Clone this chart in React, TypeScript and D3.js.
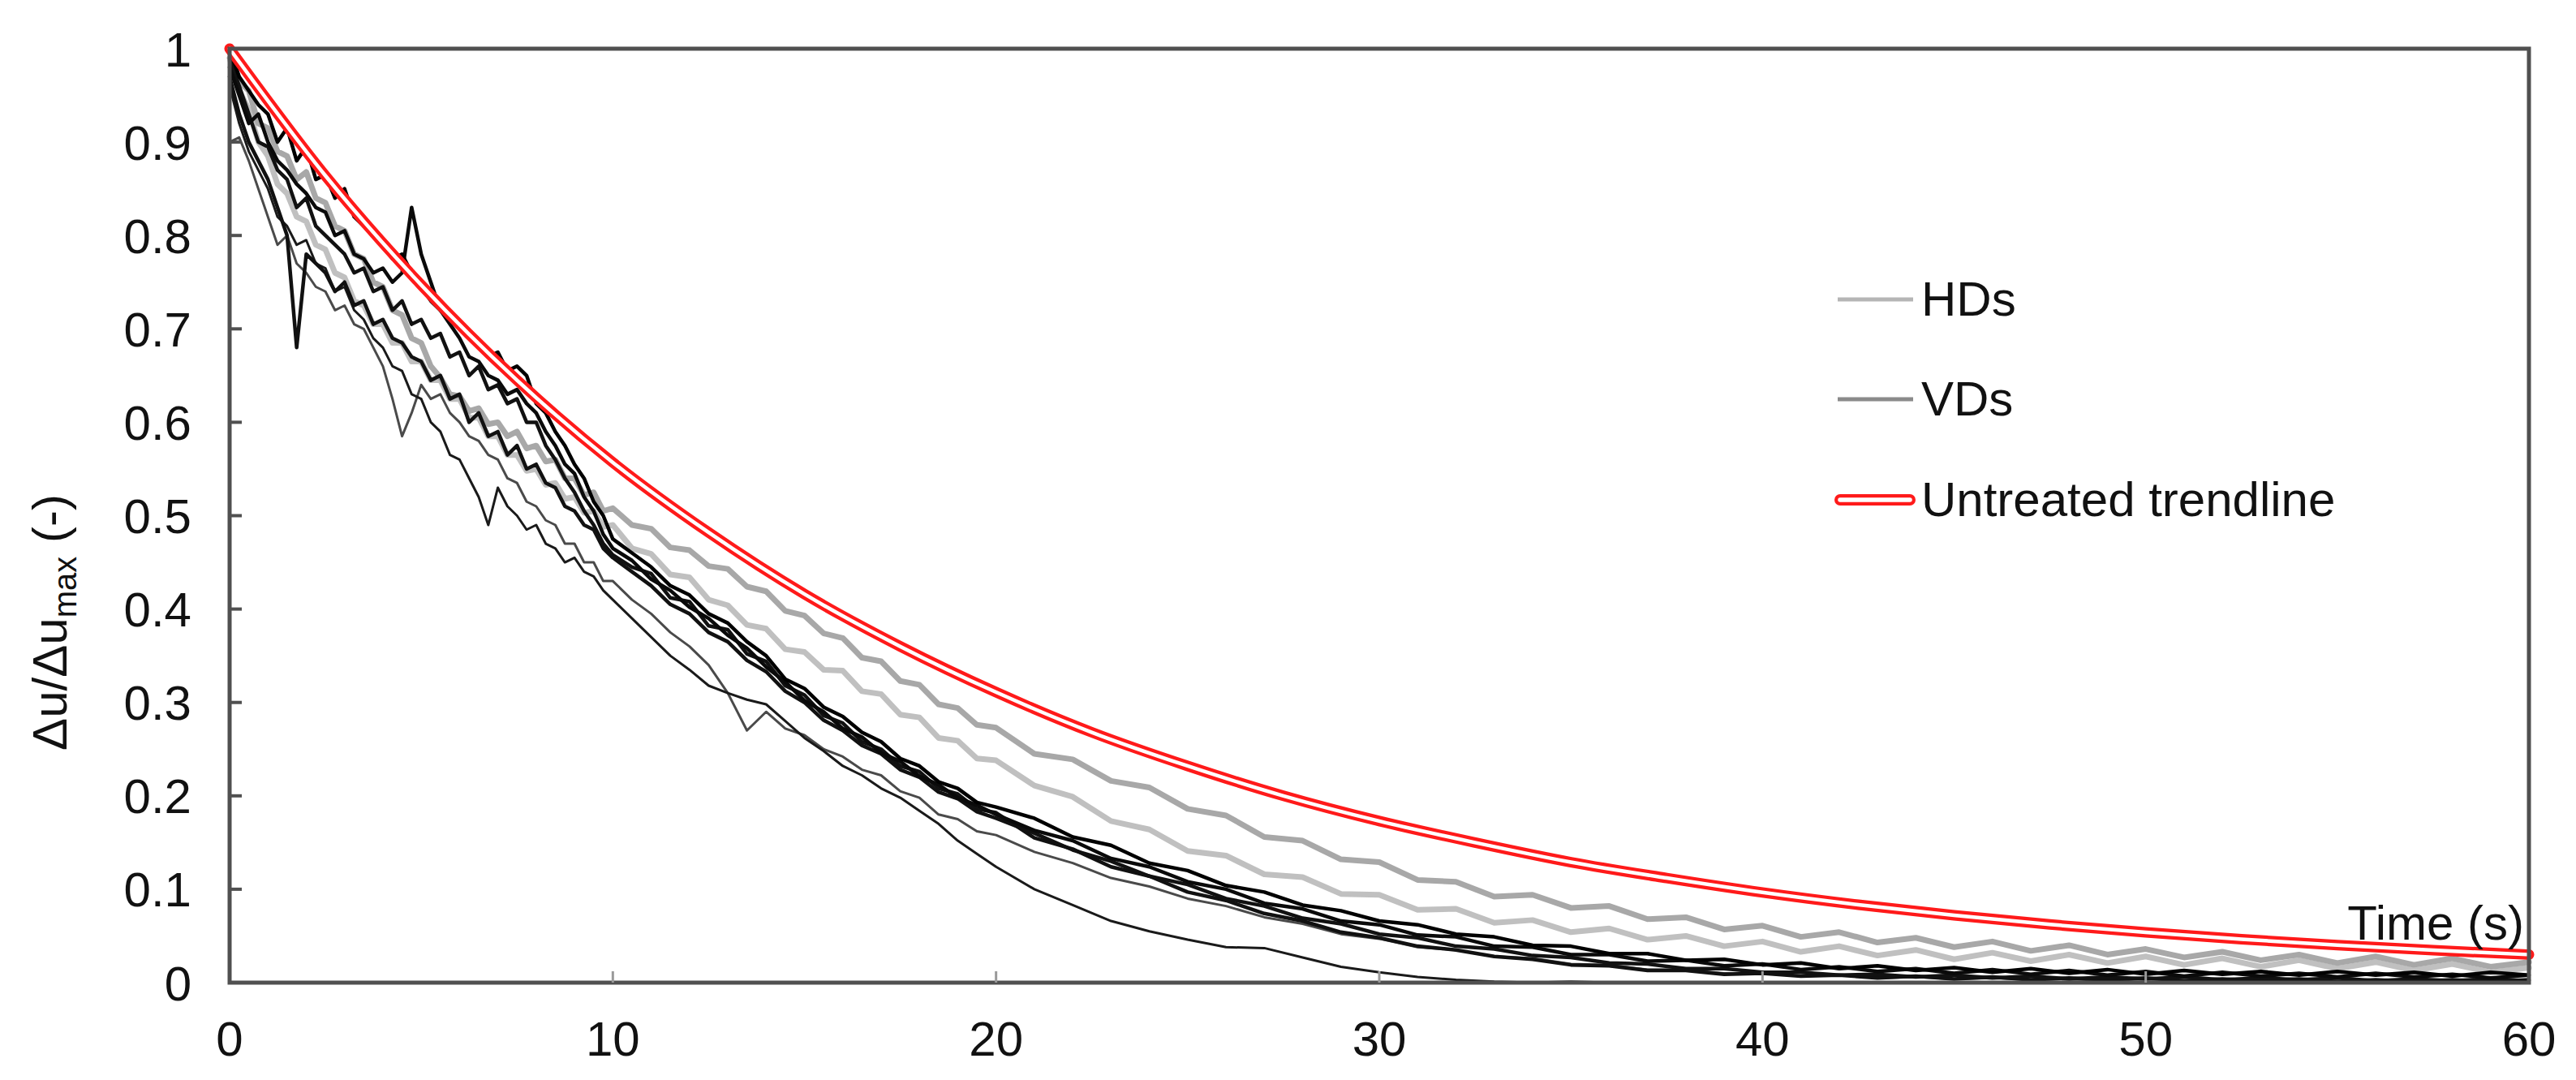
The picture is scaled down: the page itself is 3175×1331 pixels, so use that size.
import React from "react";
import * as d3 from "d3";

// ---------- data ----------
const TIME = [
  0, 0.25, 0.5, 0.75, 1, 1.25, 1.5, 1.75, 2, 2.25, 2.5, 2.75, 3, 3.25, 3.5, 3.75, 4, 4.25, 4.5, 4.75,
  5, 5.25, 5.5, 5.75, 6, 6.25, 6.5, 6.75, 7, 7.25, 7.5, 7.75, 8, 8.25, 8.5, 8.75, 9, 9.25, 9.5, 9.75, 10,
  10.5, 11, 11.5, 12, 12.5, 13, 13.5, 14, 14.5, 15, 15.5, 16, 16.5, 17, 17.5, 18, 18.5, 19, 19.5, 20,
  21, 22, 23, 24, 25, 26, 27, 28, 29, 30, 31, 32, 33, 34, 35, 36, 37, 38, 39, 40,
  41, 42, 43, 44, 45, 46, 47, 48, 49, 50, 51, 52, 53, 54, 55, 56, 57, 58, 59, 60,
];

const HD1 = [
  1.0, 0.965, 0.955, 0.92, 0.915, 0.89, 0.885, 0.86, 0.868, 0.84,
  0.835, 0.81, 0.805, 0.78, 0.775, 0.75, 0.745, 0.72, 0.715, 0.69,
  0.685, 0.66, 0.648, 0.63, 0.628, 0.612, 0.615, 0.598, 0.6, 0.585,
  0.59, 0.572, 0.575, 0.558, 0.56, 0.54, 0.54, 0.522, 0.525, 0.505,
  0.508,
  0.49, 0.486, 0.466, 0.463, 0.446, 0.443, 0.424, 0.419, 0.398, 0.393,
  0.374, 0.369, 0.348, 0.344, 0.323, 0.319, 0.298, 0.294, 0.276, 0.273,
  0.245, 0.239, 0.216, 0.209, 0.186, 0.179, 0.156, 0.152, 0.132, 0.129,
  0.11, 0.108, 0.092, 0.094, 0.08, 0.082, 0.068, 0.07, 0.057, 0.061,
  0.049, 0.054, 0.043, 0.048, 0.038, 0.044, 0.034, 0.04, 0.03, 0.036,
  0.027, 0.033, 0.024, 0.03, 0.021, 0.028, 0.019, 0.026, 0.017, 0.022,
];

const HD2 = [
  0.99, 0.955, 0.935, 0.9, 0.885, 0.855, 0.845, 0.82, 0.815, 0.79,
  0.785, 0.76, 0.755, 0.73, 0.725, 0.705, 0.705, 0.685, 0.685, 0.665,
  0.665, 0.645, 0.645, 0.625, 0.625, 0.605, 0.605, 0.585, 0.585, 0.565,
  0.565, 0.548, 0.55, 0.533, 0.535, 0.518, 0.52, 0.503, 0.505, 0.488,
  0.49,
  0.465, 0.459, 0.437, 0.434, 0.41, 0.404, 0.383, 0.379, 0.357, 0.354,
  0.335, 0.334, 0.312, 0.309, 0.287, 0.284, 0.262, 0.259, 0.24, 0.238,
  0.211, 0.199, 0.173, 0.164, 0.141, 0.136, 0.116, 0.113, 0.095, 0.094,
  0.078, 0.079, 0.064, 0.067, 0.054, 0.058, 0.046, 0.05, 0.039, 0.044,
  0.033, 0.039, 0.029, 0.035, 0.025, 0.032, 0.023, 0.03, 0.021, 0.028,
  0.019, 0.026, 0.017, 0.024, 0.015, 0.022, 0.013, 0.02, 0.011, 0.016,
];

const VD1 = [
  1.0, 0.97, 0.955, 0.94, 0.93, 0.9, 0.915, 0.88, 0.895, 0.86,
  0.865, 0.84, 0.85, 0.82, 0.81, 0.8, 0.79, 0.775, 0.78, 0.76,
  0.745, 0.73, 0.72, 0.71, 0.7, 0.69, 0.685, 0.67, 0.675, 0.655,
  0.66, 0.65, 0.62, 0.61, 0.59, 0.575, 0.555, 0.54, 0.515, 0.5,
  0.475,
  0.46, 0.445, 0.425, 0.415, 0.395, 0.385, 0.365, 0.35, 0.325, 0.315,
  0.295, 0.285, 0.268, 0.258, 0.24, 0.232, 0.215, 0.208, 0.193, 0.188,
  0.176, 0.156, 0.147, 0.128, 0.12, 0.104, 0.097, 0.083, 0.077, 0.066,
  0.062, 0.052, 0.049, 0.04, 0.039, 0.031, 0.031, 0.024, 0.025, 0.019,
  0.021, 0.015, 0.018, 0.013, 0.016, 0.011, 0.015, 0.01, 0.014, 0.009,
  0.013, 0.009, 0.012, 0.008, 0.012, 0.008, 0.011, 0.007, 0.011, 0.008,
];

const VD2 = [
  0.98, 0.95, 0.92, 0.93, 0.9, 0.88, 0.87, 0.855, 0.845, 0.83,
  0.825, 0.8, 0.805, 0.78, 0.775, 0.76, 0.765, 0.75, 0.76, 0.83,
  0.78, 0.75, 0.72, 0.705, 0.69, 0.67, 0.665, 0.65, 0.645, 0.63,
  0.635, 0.62, 0.61, 0.59, 0.575, 0.555, 0.545, 0.52, 0.505, 0.48,
  0.465,
  0.452, 0.432, 0.42, 0.402, 0.39, 0.372, 0.358, 0.338, 0.322, 0.302,
  0.29, 0.272, 0.263, 0.246, 0.237, 0.221, 0.212, 0.198, 0.19, 0.18,
  0.163, 0.152, 0.133, 0.124, 0.108, 0.1, 0.085, 0.079, 0.066, 0.062,
  0.051, 0.049, 0.039, 0.038, 0.03, 0.03, 0.023, 0.024, 0.018, 0.02,
  0.014, 0.017, 0.012, 0.015, 0.01, 0.014, 0.009, 0.013, 0.008, 0.012,
  0.007, 0.011, 0.007, 0.01, 0.006, 0.01, 0.006, 0.009, 0.005, 0.008,
];

const VD3 = [
  0.97, 0.93, 0.9, 0.88, 0.86, 0.83, 0.8, 0.68, 0.78, 0.77,
  0.76, 0.74, 0.75, 0.725, 0.73, 0.705, 0.71, 0.69, 0.685, 0.67,
  0.665, 0.645, 0.65, 0.625, 0.63, 0.6, 0.61, 0.585, 0.59, 0.565,
  0.575, 0.55, 0.555, 0.535, 0.53, 0.51, 0.505, 0.49, 0.485, 0.465,
  0.455,
  0.44, 0.425, 0.405, 0.395, 0.375, 0.365, 0.345, 0.333, 0.312, 0.3,
  0.281, 0.27, 0.254, 0.245, 0.228, 0.22, 0.204, 0.197, 0.183, 0.176,
  0.16, 0.142, 0.13, 0.114, 0.105, 0.09, 0.082, 0.069, 0.063, 0.052,
  0.048, 0.039, 0.036, 0.029, 0.027, 0.021, 0.02, 0.015, 0.015, 0.011,
  0.011, 0.008, 0.009, 0.006, 0.008, 0.005, 0.007, 0.004, 0.006, 0.004,
  0.006, 0.003, 0.005, 0.003, 0.005, 0.002, 0.004, 0.002, 0.004, 0.002,
];

const VD4 = [
  0.99, 0.96, 0.93, 0.9, 0.895, 0.87, 0.86, 0.83, 0.84, 0.81,
  0.8, 0.79, 0.78, 0.76, 0.765, 0.74, 0.745, 0.72, 0.73, 0.705,
  0.71, 0.69, 0.695, 0.67, 0.675, 0.65, 0.66, 0.635, 0.64, 0.62,
  0.625, 0.6, 0.6, 0.575, 0.56, 0.54, 0.525, 0.505, 0.49, 0.47,
  0.458,
  0.445, 0.438, 0.412, 0.408, 0.382, 0.378, 0.352, 0.344, 0.318, 0.308,
  0.286, 0.278, 0.258, 0.25, 0.232, 0.226, 0.208, 0.202, 0.186, 0.182,
  0.155, 0.143, 0.124, 0.114, 0.097, 0.088, 0.074, 0.066, 0.054, 0.048,
  0.039, 0.035, 0.028, 0.025, 0.019, 0.018, 0.013, 0.013, 0.009, 0.01,
  0.007, 0.008, 0.005, 0.007, 0.004, 0.006, 0.003, 0.005, 0.003, 0.005,
  0.002, 0.004, 0.002, 0.004, 0.001, 0.003, 0.001, 0.003, 0.001, 0.003,
];

const VD5 = [
  0.96, 0.92, 0.89, 0.87, 0.85, 0.82, 0.81, 0.79, 0.795, 0.77,
  0.765, 0.74, 0.745, 0.72, 0.71, 0.69, 0.68, 0.66, 0.655, 0.63,
  0.625, 0.6, 0.59, 0.565, 0.56, 0.54, 0.52, 0.49, 0.53, 0.51,
  0.5, 0.485, 0.49, 0.47, 0.465, 0.45, 0.455, 0.44, 0.435, 0.42,
  0.41,
  0.39, 0.37, 0.35, 0.335, 0.318, 0.31, 0.303, 0.298, 0.28, 0.262,
  0.248, 0.232, 0.222, 0.208, 0.198, 0.184, 0.17, 0.152, 0.138, 0.124,
  0.1, 0.083, 0.066, 0.055, 0.046, 0.038, 0.037, 0.027, 0.017, 0.011,
  0.006, 0.003, 0.001, 0, 0.001, 0, 0, 0, 0, 0,
  0, 0, 0, 0, 0, 0, 0, 0, 0, 0,
  0, 0, 0, 0, 0, 0, 0, 0, 0, 0,
];

const VD6 = [
  0.9, 0.905, 0.88, 0.85, 0.82, 0.79, 0.8, 0.77, 0.76, 0.745,
  0.74, 0.72, 0.725, 0.705, 0.7, 0.68, 0.66, 0.625, 0.585, 0.61,
  0.64, 0.625, 0.63, 0.61, 0.6, 0.585, 0.58, 0.565, 0.56, 0.54,
  0.535, 0.515, 0.51, 0.495, 0.49, 0.47, 0.47, 0.45, 0.45, 0.43,
  0.43,
  0.41, 0.395, 0.375, 0.36, 0.34, 0.31, 0.27, 0.29, 0.272, 0.265,
  0.25, 0.242, 0.228, 0.222, 0.205, 0.198, 0.18, 0.175, 0.162, 0.158,
  0.14, 0.128, 0.112, 0.103, 0.09, 0.082, 0.07, 0.063, 0.052, 0.047,
  0.038, 0.035, 0.028, 0.026, 0.02, 0.019, 0.014, 0.014, 0.01, 0.01,
  0.007, 0.008, 0.005, 0.006, 0.004, 0.005, 0.003, 0.004, 0.002, 0.004,
  0.002, 0.003, 0.001, 0.003, 0.001, 0.002, 0.001, 0.002, 0.001, 0.002,
];

const TREND_T = [0, 2.5, 5, 7.5, 10, 12.5, 15, 17.5, 20, 22.5, 25, 27.5, 30, 32.5, 35, 37.5, 40, 42.5, 45, 47.5, 50, 52.5, 55, 57.5, 60];
const TREND_V = [1, 0.864, 0.747, 0.645, 0.557, 0.482, 0.416, 0.36, 0.311, 0.268, 0.232, 0.2, 0.173, 0.15, 0.129, 0.112, 0.0966, 0.0834, 0.0721, 0.0623, 0.0538, 0.0465, 0.0402, 0.0347, 0.03];

const X_TICKS = [0, 10, 20, 30, 40, 50, 60];
const Y_TICKS = [0, 0.1, 0.2, 0.3, 0.4, 0.5, 0.6, 0.7, 0.8, 0.9, 1];
const LEGEND = ["HDs", "VDs", "Untreated trendline"];

// ---------- layout ----------
const W = 3175;
const H = 1331;
const L = 283, R = 3117, T = 60, B = 1211;
const FONT = "'Liberation Sans', Arial, Helvetica, sans-serif";
const AXIS = "#505050";

const x = d3.scaleLinear().domain([0, 60]).range([L, R]);
const y = d3.scaleLinear().domain([0, 1]).range([B, T]);

function pairs(ts: number[], vs: number[]): [number, number][] {
  const n = Math.min(ts.length, vs.length);
  const out: [number, number][] = [];
  for (let i = 0; i < n; i++) out.push([ts[i], vs[i]]);
  return out;
}

const lineGen = d3.line<[number, number]>().x((d) => x(d[0])).y((d) => y(d[1]));
const smoothGen = d3
  .line<[number, number]>()
  .x((d) => x(d[0]))
  .y((d) => y(d[1]))
  .curve(d3.curveMonotoneX);

const SERIES = [
  { data: HD2, color: "#c0c0c0", width: 7 },
  { data: HD1, color: "#a8a8a8", width: 7 },
  { data: VD6, color: "#4a4a4a", width: 3 },
  { data: VD5, color: "#1a1a1a", width: 3 },
  { data: VD4, color: "#111111", width: 4.5 },
  { data: VD3, color: "#111111", width: 4.5 },
  { data: VD2, color: "#0a0a0a", width: 4.5 },
  { data: VD1, color: "#000000", width: 4.5 },
];

export default function App() {
  const trend = smoothGen(pairs(TREND_T, TREND_V)) || "";
  const fmt = (v: number) => (v === 0 || v === 1 ? String(v) : v.toFixed(1));
  const legendY = [369, 492, 616];
  return (
    <svg
      width={W}
      height={H}
      style={{ position: "absolute", left: 0, top: 0, background: "#fff" }}
      fontFamily={FONT}
    >
      <rect x={0} y={0} width={W} height={H} fill="#ffffff" />

      {/* data lines */}
      <g fill="none" strokeLinejoin="round" strokeLinecap="round">
        {SERIES.map((s, i) => (
          <path key={i} d={lineGen(pairs(TIME, s.data)) || ""} stroke={s.color} strokeWidth={s.width} />
        ))}
        <path d={trend} stroke="#ff1a1a" strokeWidth={13} />
        <path d={trend} stroke="#ffffff" strokeWidth={4.5} />
      </g>

      {/* frame */}
      <rect x={L} y={T} width={R - L} height={B - T} fill="none" stroke={AXIS} strokeWidth={5} />

      {/* y ticks */}
      {Y_TICKS.map((v) => (
        <g key={"y" + v}>
          <line x1={L} x2={L + 15} y1={y(v)} y2={y(v)} stroke={AXIS} strokeWidth={4} />
          <text x={236} y={y(v) + 21.5} fontSize={60} textAnchor="end" fill="#111">
            {fmt(v)}
          </text>
        </g>
      ))}

      {/* x ticks */}
      {X_TICKS.map((v) => (
        <g key={"x" + v}>
          {v > 0 && v < 60 && (
            <line x1={x(v)} x2={x(v)} y1={B} y2={B - 14} stroke="#9a9a9a" strokeWidth={3} />
          )}
          <text x={x(v)} y={1301} fontSize={60} textAnchor="middle" fill="#111">
            {v}
          </text>
        </g>
      ))}

      {/* axis titles */}
      <text x={3111} y={1158} fontSize={60} textAnchor="end" fill="#111">
        Time (s)
      </text>
      <text transform="translate(82,767) rotate(-90)" fontSize={60} textAnchor="middle" fill="#111">
        Δu/Δu
        <tspan fontSize={40} dy={12}>max</tspan>
        <tspan dy={-12}> (-)</tspan>
      </text>

      {/* legend */}
      <g>
        <line x1={2265} x2={2358} y1={legendY[0]} y2={legendY[0]} stroke="#b5b5b5" strokeWidth={5} />
        <line x1={2265} x2={2358} y1={legendY[1]} y2={legendY[1]} stroke="#8a8a8a" strokeWidth={5} />
        <line x1={2268} x2={2354} y1={legendY[2]} y2={legendY[2]} stroke="#ff1a1a" strokeWidth={14} strokeLinecap="round" />
        <line x1={2268} x2={2354} y1={legendY[2]} y2={legendY[2]} stroke="#ffffff" strokeWidth={5.5} strokeLinecap="round" />
        {LEGEND.map((t, i) => (
          <text key={t} x={2368} y={legendY[i] + 20} fontSize={60} fill="#111">
            {t}
          </text>
        ))}
      </g>
    </svg>
  );
}
